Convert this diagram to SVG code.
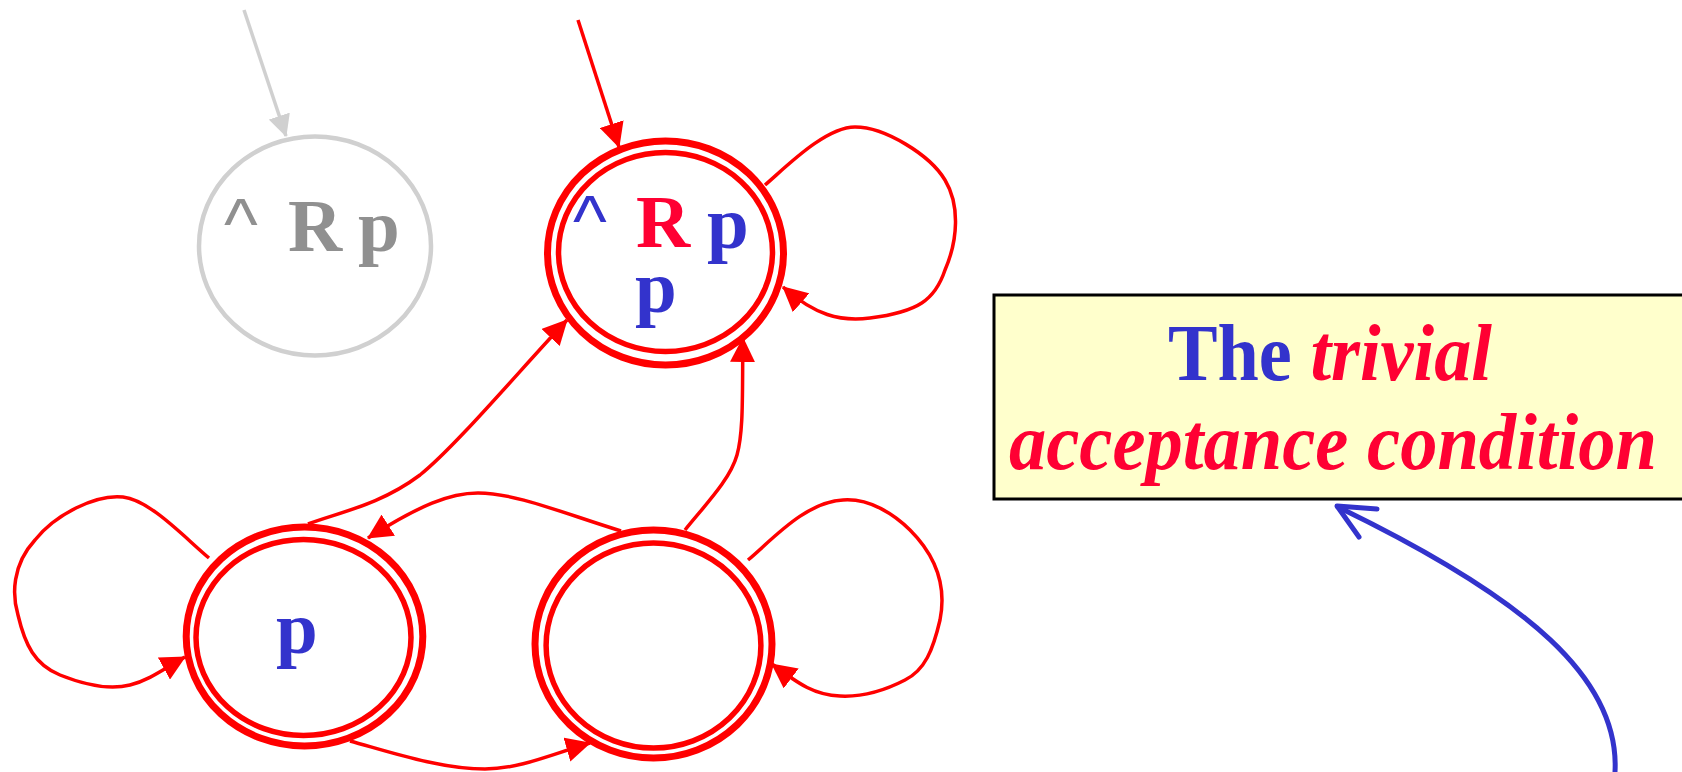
<svg xmlns="http://www.w3.org/2000/svg" width="1682" height="772" viewBox="0 0 1682 772">
<style>
.serif{font-family:"Liberation Serif","Times New Roman",serif;}
.lbl{font-size:75px;font-weight:bold;}
.caret{font-family:"Liberation Sans",Arial,sans-serif;font-size:72px;font-weight:normal;}
.edge{fill:none;stroke:#ff0000;stroke-width:3.5;marker-end:url(#ah);}
.outer{fill:none;stroke:#ff0000;stroke-width:7;}
.inner{fill:none;stroke:#ff0000;stroke-width:5.5;}
.blue{fill:#3333cc;}
.red{fill:#ff0033;}
.gray{fill:#909090;}
</style>
<defs>
<marker id="ah" viewBox="0 0 25 25" markerWidth="25" markerHeight="25" refX="24" refY="12.5" orient="auto" markerUnits="userSpaceOnUse">
<path d="M0,0 L25,12.5 L0,25 z" fill="#ff0000"/>
</marker>
<marker id="ahg" viewBox="0 0 22 22" markerWidth="22" markerHeight="22" refX="21" refY="11" orient="auto" markerUnits="userSpaceOnUse">
<path d="M0,0 L22,11 L0,22 z" fill="#d0d0d0"/>
</marker>
</defs>

<g id="node-gray">
<ellipse cx="315" cy="246" rx="116" ry="109.5" fill="#ffffff" stroke="#d0d0d0" stroke-width="4.5"/>
<text class="caret gray" x="224" y="249">^</text>
<text class="serif lbl gray" x="288" y="251">R</text>
<text class="serif lbl gray" x="358" y="251">p</text>
</g>

<g id="node-top">
<ellipse class="outer" cx="665.5" cy="253" rx="118" ry="112"/>
<ellipse class="inner" cx="665.5" cy="252" rx="107" ry="99.5"/>
<text class="caret blue" x="573" y="246">^</text>
<text class="serif lbl red" x="636" y="247">R</text>
<text class="serif lbl blue" x="707" y="248">p</text>
<text class="serif lbl blue" x="635" y="312">p</text>
</g>

<g id="node-left">
<ellipse class="outer" cx="304.5" cy="636.5" rx="118.3" ry="109.5"/>
<ellipse class="inner" cx="303.5" cy="637.5" rx="107.5" ry="98"/>
<text class="serif lbl blue" x="276" y="653">p</text>
</g>

<g id="node-right">
<ellipse class="outer" cx="653.5" cy="644" rx="118.5" ry="114"/>
<ellipse class="inner" cx="653.5" cy="645.5" rx="107.4" ry="102.5"/>
</g>

<g id="connectors">
<path d="M244,10 L286,136" fill="none" stroke="#d0d0d0" stroke-width="3.5" marker-end="url(#ahg)"/>
<path class="edge" d="M578,20 L619,147"/>
<path class="edge" d="M765,185 C785,168 825,127 855,127 C885,127 930,155 945,180 C960,205 958,240 945,270 C935,300 918,312 870,318 C840,322 815,315 783,287"/>
<path class="edge" d="M209,558 C185,538 150,500 123,497 C95,494 55,515 35,540 C12,565 12,595 18,615 C25,645 35,665 60,675 C85,685 110,690 130,685 C150,680 165,668 185,657"/>
<path class="edge" d="M748,560 C772,540 805,502 843,500 C870,498 895,515 910,530 C940,560 946,590 940,620 C933,650 925,670 905,680 C880,693 860,697 840,696 C815,695 800,685 772,664"/>
<path class="edge" d="M308,524 C340,512 380,505 420,475 C455,447 520,370 567,320"/>
<path class="edge" d="M685,530 C705,505 730,480 737,455 C744,430 742,390 743,338"/>
<path class="edge" d="M621,531 C560,512 515,493 478,493 C450,493 420,505 368,538"/>
<path class="edge" d="M350,741 C390,752 440,769 485,769 C520,769 555,753 590,743"/>
<path d="M1615,772 C1620,680 1530,600 1338,507" fill="none" stroke="#3333cc" stroke-width="5" stroke-linecap="round"/>
<polyline points="1377,509 1337,506 1359,537" fill="none" stroke="#3333cc" stroke-width="5" stroke-linecap="round" stroke-linejoin="round"/>
</g>

<g id="note">
<rect x="994" y="295" width="700" height="204" fill="#ffffcc" stroke="#000000" stroke-width="3"/>
<text class="serif" x="1168" y="380" font-size="80" font-weight="bold" textLength="324" lengthAdjust="spacingAndGlyphs"><tspan class="blue">The </tspan><tspan class="red" font-style="italic">trivial</tspan></text>
<text class="serif red" x="1009" y="469" font-size="80" font-weight="bold" font-style="italic" textLength="648" lengthAdjust="spacingAndGlyphs">acceptance condition</text>
</g>
</svg>
